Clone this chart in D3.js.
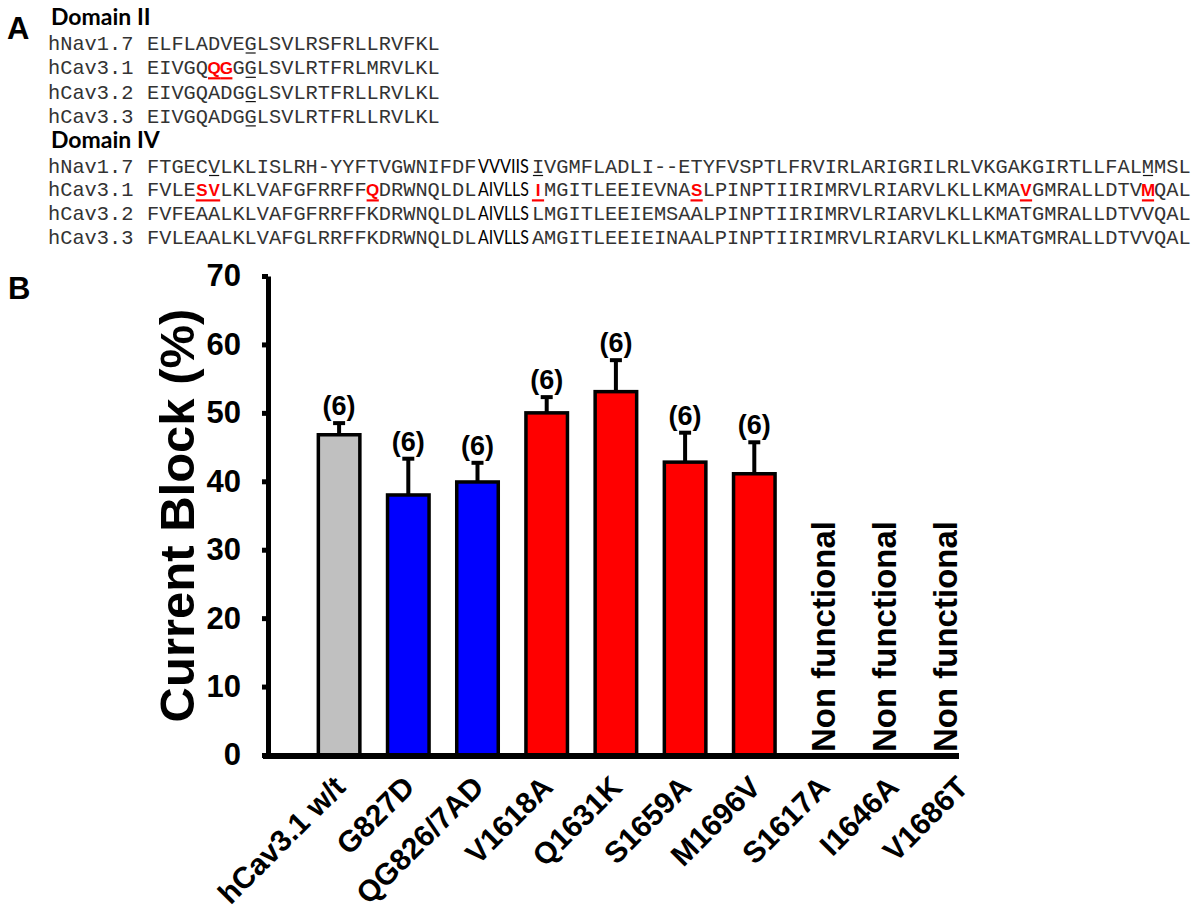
<!DOCTYPE html>
<html><head><meta charset="utf-8">
<script src="https://cdnjs.cloudflare.com/ajax/libs/d3/7.8.5/d3.min.js"></script>
<style>body{margin:0;background:#fff}svg{display:block}</style>
</head><body>
<script>
// ---------- Panel A data ----------
const seqNames = ["hNav1.7", "hCav3.1", "hCav3.2", "hCav3.3"];
const domain2Seqs = [
  "ELFLADVEGLSVLRSFRLLRVFKL",
  "EIVGQQGGGLSVLRTFRLMRVLKL",
  "EIVGQADGGLSVLRTFRLLRVLKL",
  "EIVGQADGGLSVLRTFRLLRVLKL"
];
const domain2Red = [[], [5, 6], [], []];
const domain2Under = [[8], [8], [8], [8]];
const domain4Seqs = [
  "FTGECVLKLISLRH-YYFTVGWNIFDFVVVIISIVGMFLADLI--ETYFVSPTLFRVIRLARIGRILRLVKGAKGIRTLLFALMMSL",
  "FVLESVLKLVAFGFRRFFQDRWNQLDLAIVLLSIMGITLEEIEVNASLPINPTIIRIMRVLRIARVLKLLKMAVGMRALLDTVMQAL",
  "FVFEAALKLVAFGFRRFFKDRWNQLDLAIVLLSLMGITLEEIEMSAALPINPTIIRIMRVLRIARVLKLLKMATGMRALLDTVVQAL",
  "FVLEAALKLVAFGLRRFFKDRWNQLDLAIVLLSAMGITLEEIEINAALPINPTIIRIMRVLRIARVLKLLKMATGMRALLDTVVQAL"
];
const domain4Red = [[], [4, 5, 18, 33, 46, 73, 83], [], []];
const domain4Under = [[5, 33, 83], [], [], []];
const domain4Segment = [27, 6]; // residues shown in plain sans (start, length)

// ---------- Panel B data ----------
const categories = ["hCav3.1 w/t", "G827D", "QG826/7AD", "V1618A", "Q1631K", "S1659A", "M1696V", "S1617A", "I1646A", "V1686T"];
const groups = ["wt", "DII", "DII", "DIV", "DIV", "DIV", "DIV", "DIV", "DIV", "DIV"];
const meanBlock = [46.8, 38.0, 39.9, 50.0, 53.1, 42.8, 41.1, null, null, null];
const semBlock = [1.7, 5.3, 2.8, 2.3, 4.6, 4.3, 4.6, null, null, null];
const nLabels = ["(6)", "(6)", "(6)", "(6)", "(6)", "(6)", "(6)", null, null, null];
const nonFunctionalText = "Non functional";
const yTicks = [0, 10, 20, 30, 40, 50, 60, 70];
const yLabel = "Current Block (%)";

const W = 1200, H = 908;
const svg = d3.select("body").append("svg").attr("width", W).attr("height", H);
const ARIAL = "'Liberation Sans', Arial, sans-serif";
const MONO = "'Liberation Mono', 'Courier New', monospace";
const CAL = "Lato, 'Open Sans', sans-serif";

// panel letters
svg.append("text").attr("x", 7).attr("y", 39).text("A")
  .attr("font-family", ARIAL).attr("font-weight", "bold").attr("font-size", 31);
svg.append("text").attr("x", 8).attr("y", 299).text("B")
  .attr("font-family", ARIAL).attr("font-weight", "bold").attr("font-size", 31);

// ---------- Panel A ----------
const cw = 12.2, monoSize = cw / 0.6;
const nameX = 48, seqX = 147, segW = 54;
const monoColor = "#333";

function drawDomain(title, titleY, rowY0, rowStep, seqs, reds, unders, segment) {
  svg.append("text").attr("x", 51).attr("y", titleY).text(title)
    .attr("font-family", CAL).attr("font-weight", "bold").attr("font-size", 23).attr("fill", "#000");
  seqs.forEach((seq, r) => {
    const y = rowY0 + r * rowStep;
    const g = svg.append("g");
    g.append("text").attr("x", nameX).attr("y", y).text(seqNames[r])
      .attr("font-family", MONO).attr("font-size", monoSize).attr("fill", monoColor);
    const xpos = i => {
      if (!segment || i < segment[0]) return seqX + i * cw;
      if (i < segment[0] + segment[1]) return seqX + segment[0] * cw + 1.5;
      return seqX + segment[0] * cw + 1.5 + segW + (i - segment[0] - segment[1]) * cw;
    };
    const redSet = new Set(reds[r]);
    let run = "", runStart = 0;
    const flush = () => {
      if (run.length) g.append("text").attr("x", xpos(runStart)).attr("y", y).text(run)
        .attr("font-family", MONO).attr("font-size", monoSize).attr("fill", monoColor)
        .style("white-space", "pre");
      run = "";
    };
    for (let i = 0; i < seq.length; i++) {
      const inSeg = segment && i >= segment[0] && i < segment[0] + segment[1];
      if (inSeg) {
        flush();
        if (i === segment[0]) {
          g.append("text").attr("x", xpos(i)).attr("y", y)
            .text(seq.substr(segment[0], segment[1]))
            .attr("textLength", segW - 3).attr("lengthAdjust", "spacingAndGlyphs")
            .attr("font-family", CAL).attr("font-size", 19.5).attr("fill", "#000");
        }
        continue;
      }
      if (redSet.has(i)) {
        flush();
        g.append("text").attr("x", xpos(i) + cw / 2).attr("y", y).text(seq[i])
          .attr("text-anchor", "middle").attr("font-family", ARIAL).attr("font-weight", "bold")
          .attr("font-size", 17).attr("fill", "#ff0000");
        g.append("line").attr("x1", xpos(i)).attr("x2", xpos(i) + cw)
          .attr("y1", y + 4).attr("y2", y + 4).attr("stroke", "#ff0000").attr("stroke-width", 2.2);
        continue;
      }
      if (!run.length) runStart = i;
      run += seq[i];
    }
    flush();
    unders[r].forEach(i => {
      g.append("line").attr("x1", xpos(i) + 1).attr("x2", xpos(i) + cw - 1)
        .attr("y1", y + 3).attr("y2", y + 3).attr("stroke", "#111").attr("stroke-width", 1.2);
    });
  });
}
drawDomain("Domain II", 25, 50, 24.3, domain2Seqs, domain2Red, domain2Under, null);
drawDomain("Domain IV", 148, 172.5, 23.9, domain4Seqs, domain4Red, domain4Under, domain4Segment);

// ---------- Panel B ----------
const axisX = 268, axisEndX = 959;
const y = d3.scaleLinear().domain([0, 70]).range([755, 276]);
const x = d3.scaleBand().domain(categories).range([304.5, 996.5]).paddingInner(0.4).paddingOuter(0.2);
const color = { wt: "#c0c0c0", DII: "#0000ff", DIV: "#ff0000" };

const yAxis = svg.append("g").attr("transform", `translate(${axisX},0)`)
  .call(d3.axisLeft(y).tickValues(yTicks).tickSize(6).tickSizeOuter(0).tickPadding(21));
yAxis.select(".domain").attr("stroke", "#000").attr("stroke-width", 5);
yAxis.selectAll(".tick line").attr("stroke", "#000").attr("stroke-width", 5);
yAxis.selectAll(".tick text").attr("font-family", ARIAL).attr("font-weight", "bold")
  .attr("font-size", 31).attr("fill", "#000");

svg.append("text")
  .attr("transform", `translate(194,${(y(0) + y(70)) / 2}) rotate(-90)`)
  .attr("text-anchor", "middle").text(yLabel)
  .attr("font-family", ARIAL).attr("font-weight", "bold").attr("font-size", 49);

const data = categories.map((c, i) => ({ c, g: groups[i], m: meanBlock[i], e: semBlock[i], n: nLabels[i] }));
const valid = data.filter(d => d.m != null);

svg.append("g").selectAll("rect").data(valid).join("rect")
  .attr("x", d => x(d.c)).attr("width", x.bandwidth())
  .attr("y", d => y(d.m)).attr("height", d => y(0) - y(d.m))
  .attr("fill", d => color[d.g]).attr("stroke", "#000").attr("stroke-width", 3.5);

const eb = svg.append("g");
valid.forEach(d => {
  const cx = x(d.c) + x.bandwidth() / 2;
  eb.append("line").attr("x1", cx).attr("x2", cx).attr("y1", y(d.m)).attr("y2", y(d.m + d.e))
    .attr("stroke", "#000").attr("stroke-width", 4);
  eb.append("line").attr("x1", cx - 6).attr("x2", cx + 6).attr("y1", y(d.m + d.e)).attr("y2", y(d.m + d.e))
    .attr("stroke", "#000").attr("stroke-width", 4);
  eb.append("text").attr("x", cx).attr("y", y(d.m + d.e) - 8).attr("text-anchor", "middle").text(d.n)
    .attr("font-family", ARIAL).attr("font-weight", "bold").attr("font-size", 27);
});

// x axis line
svg.append("line").attr("x1", 263).attr("x2", axisEndX).attr("y1", 756).attr("y2", 756)
  .attr("stroke", "#000").attr("stroke-width", 6);

// non-functional labels
const nfCats = data.filter(d => d.m == null).map(d => d.c);
const nfX = d3.scalePoint().domain(nfCats).range([835, 957]);
svg.append("g").selectAll("text").data(nfCats).join("text")
  .attr("transform", d => `translate(${nfX(d)},752) rotate(-90)`)
  .text(nonFunctionalText).attr("font-family", ARIAL).attr("font-weight", "bold").attr("font-size", 33);

// category labels
svg.append("g").selectAll("text").data(categories).join("text")
  .attr("transform", d => `translate(${x(d) + x.bandwidth() / 2 + 8},789) rotate(-45)`)
  .attr("text-anchor", "end").text(d => d)
  .attr("font-family", ARIAL).attr("font-weight", "bold").attr("font-size", 30);
</script>
</body></html>
